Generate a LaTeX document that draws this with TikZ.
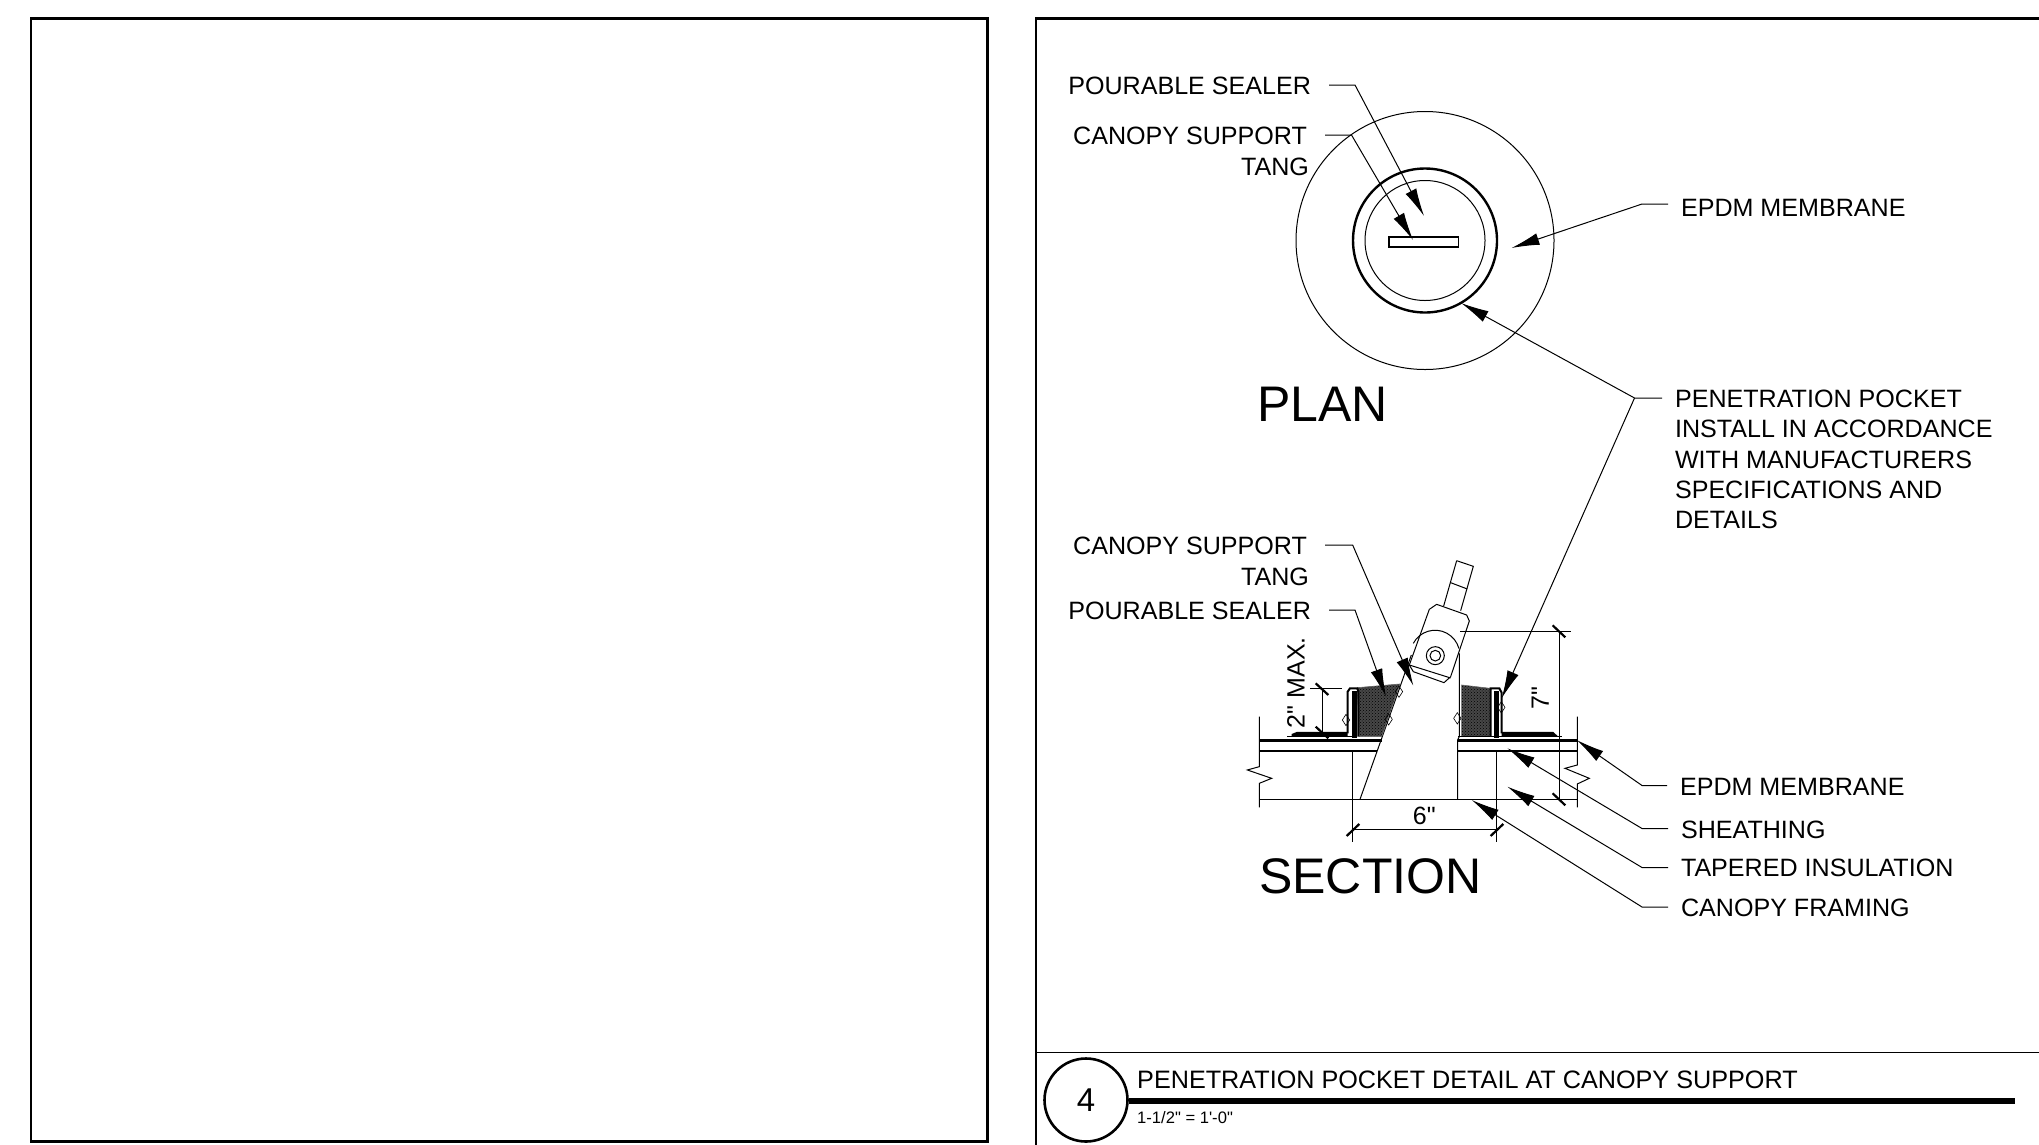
\documentclass[tikz,border=0pt]{standalone}
\usepackage{fontspec}
\setmainfont{Liberation Sans}
\newfontfamily\plainsans{Liberation Sans}
\usetikzlibrary{arrows.meta, patterns}
\tikzset{
	callout/.style = {inner sep = 0pt, outer xsep = 18pt, font = \fontsize{25.1}{30}\selectfont},
	calloutright/.style = {callout, outer xsep = 13pt},
	heading/.style = {inner sep = 0pt, font = \fontsize{50}{60}\selectfont},
	leader/.style = {line width = 1pt, -{Latex[length = 28pt, width = 12pt]}},
	dimline/.style = {line width = 1pt},
	dimtick/.style = {line width = 2.2pt},
	sealant/.style = {draw = black!60, line width = 0.6pt, preaction = {fill = black!72}, pattern = crosshatch dots}
}
\begin{document}
\begin{tikzpicture}[x = 1pt, y = -1pt]
	\clip (0,0) rectangle (2039,1144);
	\fill [white] (0,0) rectangle (2039,1144);

	\begin{scope}[line width = 2.6pt]
		\draw (31,18.5) rectangle (987.5,1141.5);
		\draw (2045,18.5) -- (1036,18.5) -- (1036,1150);
	\end{scope}

	\draw [line width = 1.2pt] (1036,1052.5) -- (2045,1052.5);
	\node (detailNo) [circle, draw, line width = 2.6pt, minimum size = 83pt, inner sep = 0pt, font = \fontsize{33}{36}\selectfont] at (1086,1100) {4};
	\coordinate (titleEnd) at (2015,1100.5);
	\draw [line width = 6pt] (detailNo.east |- titleEnd) -- (titleEnd);
	\node (detailTitle) [anchor = base west, inner sep = 0pt, font = \fontsize{25.2}{30}\selectfont] at (1137,1088) {PENETRATION POCKET DETAIL AT CANOPY SUPPORT};
	\node (detailScale) [anchor = base west, inner sep = 0pt, font = \fontsize{16.6}{18}\selectfont\plainsans] at (1137,1123) {1-1/2" = 1'-0"};

	\begin{scope}[line width = 1pt]
		\draw (1425,240.5) circle [radius = 129];
		\draw [line width = 2.4pt] (1425,240.5) circle [radius = 72];
		\draw (1425,240.5) circle [radius = 60];
		\draw [line width = 1.8pt] (1389,237) rectangle (1458.5,247);
	\end{scope}

	\node (planSealer) [callout, anchor = east] at (1329,86) {POURABLE SEALER};
	\node (planTang) [callout, anchor = east] at (1325,136) {CANOPY SUPPORT};
	\node (planTangTwo) [callout, anchor = east] at (1327,167) {TANG};
	\node (planMembrane) [calloutright, anchor = west] at (1668,208) {EPDM MEMBRANE};
	\node (pocket) [calloutright, anchor = west, align = left, font = \fontsize{25.1}{30.3}\selectfont] at (1662,459.5) {PENETRATION POCKET\\INSTALL IN ACCORDANCE\\WITH MANUFACTURERS\\SPECIFICATIONS AND\\DETAILS};
	\node (planHead) [heading, anchor = west] at (1257,404) {PLAN};
	\node (sectionHead) [heading, anchor = west] at (1259,876) {SECTION};

	\node (secTang) [callout, anchor = east] at (1325,546) {CANOPY SUPPORT};
	\node (secTangTwo) [callout, anchor = east] at (1327,577) {TANG};
	\node (secSealer) [callout, anchor = east] at (1329,611) {POURABLE SEALER};
	\node (secMembrane) [calloutright, anchor = west] at (1667,786.5) {EPDM MEMBRANE};
	\node (secSheathing) [calloutright, anchor = west] at (1668,829.5) {SHEATHING};
	\node (secInsulation) [calloutright, anchor = west] at (1668,868) {TAPERED INSULATION};
	\node (secFraming) [calloutright, anchor = west] at (1668,908) {CANOPY FRAMING};

	\coordinate (planSealerKnee) at (1355,85);
	\coordinate (planSealerTip) at (1424,216);
	\coordinate (planTangKnee) at (1351.5,135);
	\coordinate (planTangTip) at (1413,240);
	\coordinate (planMembraneKnee) at (1642,204);
	\coordinate (planMembraneTip) at (1511.5,248);
	\coordinate (pocketKnee) at (1634.5,398);
	\coordinate (pocketPlanTip) at (1461,303);

	\draw [leader] (planSealer.east |- planSealerKnee) -- (planSealerKnee) -- (planSealerTip);
	\draw [leader] (planTang.east |- planTangKnee) -- (planTangKnee) -- (planTangTip);
	\draw [leader] (planMembrane.west |- planMembraneKnee) -- (planMembraneKnee) -- (planMembraneTip);
	\draw [leader] (pocket.west |- pocketKnee) -- (pocketKnee) -- (pocketPlanTip);

	\begin{scope}[shift = {(1200,520)}, x = 0.3333pt, y = -0.3333pt]
		\begin{scope}[line width = 1pt]
			\draw (178,590) -- (178,740) -- (142,750) -- (215,775) -- (178,790) -- (178,862);
			\draw (1132,590) -- (1132,735) -- (1095,745) -- (1168,775) -- (1132,792) -- (1132,862);
			\draw (458,693) -- (458,966);
			\draw (890,693) -- (890,966);
			\draw (480,838) -- (634,405);
			\draw (778,400) -- (778,650) -- (773,660) -- (773,838);
		\end{scope}

		\draw [line width = 3pt] (178,661) -- (545,661);
		\draw [line width = 3pt] (775,661) -- (1132,661);
		\draw [line width = 1.6pt] (178,693) -- (531,693);
		\draw [line width = 1.6pt] (775,693) -- (1132,693);
		\draw [line width = 1.4pt] (178,838) -- (1132,838);

		\draw [sealant] (472,503) -- (600,492) -- (545,650) -- (478,650) -- cycle;
		\draw [sealant] (785,495) -- (870,505) -- (870,650) -- (785,650) -- cycle;

		\begin{scope}[line width = 1pt]
			\draw [line width = 2pt] (443,640) -- (443,515) -- (450,505) -- (472,505) -- (475,515) -- (475,650);
			\draw [line width = 2pt] (872,650) -- (872,505) -- (898,505) -- (905,518) -- (905,640);
			\draw (262,650) -- (462,650);
			\draw (775,650) -- (885,650);
			\draw (895,650) -- (1085,650);
			\foreach \xPos/\yPos in {438/600, 597/515, 566/598, 904/562, 772/595} {
				\draw [line width = 0.6pt] (\xPos-11,\yPos) -- (\xPos,\yPos-17) -- (\xPos+11,\yPos) -- (\xPos,\yPos+17) -- cycle;
			}
		\end{scope}
		\fill (455,512) rectangle (471,655);
		\fill (881,512) rectangle (897,655);
		\fill (275,650) -- (275,642) -- (290,636) -- (443,636) -- (443,650) -- cycle;
		\fill (905,636) -- (1060,636) -- (1075,650) -- (905,650) -- cycle;

		\begin{scope}[line width = 1pt]
			\draw (770,122) -- (820,139) -- (782,272);
			\draw (770,122) -- (731,258);
			\draw (752,188) -- (802,207);
			\draw [fill = white] (710,253) -- (800,285) -- (808,303) -- (752,470) -- (732,488) -- (640,455) -- (628,435) -- (688,268) -- cycle;
			\draw (628,435) -- (752,474);
			\draw (640,370) arc [start angle = 208, end angle = 345, radius = 74];
			\draw (706,407) circle [radius = 27];
			\draw (706,407) circle [radius = 16];
		\end{scope}

		\draw [dimline] (330,507) -- (425,507);
		\draw [dimline] (367,507) -- (367,640);
		\draw [dimtick] (347,490) -- (385,525);
		\draw [dimtick] (347,620) -- (385,655);
		\draw [dimline] (780,334) -- (1112,334);
		\draw [dimline] (1078,334) -- (1078,838);
		\draw [dimtick] (1058,316) -- (1096,352);
		\draw [dimtick] (1058,820) -- (1096,856);
		\draw [dimline] (458,930) -- (890,930);
		\draw [dimtick] (440,948) -- (478,912);
		\draw [dimtick] (872,948) -- (910,912);

		\node (dimSix) [inner sep = 0pt, font = \fontsize{25}{30}\selectfont\plainsans] at (673,887) {6"};
		\node (dimSeven) [inner sep = 0pt, rotate = 90, font = \fontsize{25}{30}\selectfont\plainsans] at (1021,535) {7"};
		\node (dimTwo) [inner sep = 0pt, rotate = 90, font = \fontsize{25}{30}\selectfont\plainsans] at (288,488) {2" MAX.};

		\coordinate (secTangKnee) at (458,75);
		\coordinate (secTangTip) at (640,497);
		\coordinate (secSealerKnee) at (465,270);
		\coordinate (secSealerTip) at (558,530);
		\coordinate (pocketSecTip) at (905,535);
		\coordinate (secMembraneTip) at (1130,660);
		\coordinate (secSheathingTip) at (922,685);
		\coordinate (secInsulationTip) at (922,800);
		\coordinate (secFramingTip) at (815,840);
	\end{scope}

	\coordinate (secTangStub) at (secTang.east |- secTangKnee);
	\coordinate (secMembraneKnee) at (1642,785.5);
	\coordinate (secSheathingKnee) at (1642,828.5);
	\coordinate (secInsulationKnee) at (1642,867.5);
	\coordinate (secFramingKnee) at (1642,907);

	\draw [leader] (secTangStub) -- (secTangKnee) -- (secTangTip);
	\draw [leader] (secSealer.east |- secSealerKnee) -- (secSealerKnee) -- (secSealerTip);
	\draw [leader] (pocketKnee) -- (pocketSecTip);
	\draw [leader] (secMembrane.west |- secMembraneKnee) -- (secMembraneKnee) -- (secMembraneTip);
	\draw [leader] (secSheathing.west |- secSheathingKnee) -- (secSheathingKnee) -- (secSheathingTip);
	\draw [leader] (secInsulation.west |- secInsulationKnee) -- (secInsulationKnee) -- (secInsulationTip);
	\draw [leader] (secFraming.west |- secFramingKnee) -- (secFramingKnee) -- (secFramingTip);
\end{tikzpicture}
\end{document}
